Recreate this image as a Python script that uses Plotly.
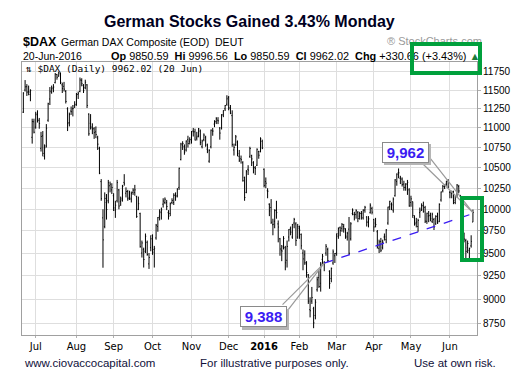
import math
import pandas as pd
import plotly.graph_objects as go

# ---------------- data ----------------
holidays = ["2015-12-24", "2015-12-25", "2015-12-31", "2016-01-01", "2016-03-25", "2016-03-28"]
dates = [d for d in pd.bdate_range("2015-06-22", "2016-06-20") if d.strftime("%Y-%m-%d") not in holidays]

open_ = [
    11205, 11500, 11545, 11480, 11440, 10880, 11080,
    11010, 11170, 11100, 10740, 10900, 10640, 10770, 11100, 11380, 11470, 11530, 11600, 11710, 11690, 11720, 11570, 11550, 11480, 11250, 11070, 11220, 11250, 11290,
    11300, 11440, 11480, 11630, 11560, 11530, 11570, 11180, 11060, 11000, 10990, 10950, 10870, 10740, 10330, 9900, 9800, 10080, 10100, 10280, 10230,
    10160, 9990, 10100, 10230, 10090, 10130, 10320, 10190, 10210, 10140, 10120, 10200, 10200, 10150, 10000, 9950, 9500, 9540, 9520, 9620, 9380, 9560,
    9700, 9540, 9670, 9800, 9920, 9960, 10060, 10080, 10080, 9960, 9950, 10080, 10080, 10170, 10160, 10260, 10600, 10780, 10760, 10720, 10850, 10830,
    10850, 10960, 10950, 10870, 10900, 10960, 10760, 10850, 10880, 10730, 10580, 10760, 10960, 11050, 11080, 11100, 11000, 11000, 11170, 11250, 11310,
    11400, 11260, 11160, 10720, 10790, 10820, 10640, 10610, 10560, 10380, 10200, 10480, 10640, 10650, 10560, 10500, 10530, 10700, 10700, 10830,
    10480, 10330, 10220, 10060, 10020, 9820, 9860, 9990, 9830, 9660, 9530, 9570, 9560, 9420, 9680, 9780, 9680, 9840, 9830, 9680,
    9780, 9710, 9500, 9480, 9380, 9260, 8890, 8980, 8900, 8830, 9100, 9230, 9170, 9430, 9390, 9500, 9540, 9300, 9220, 9390, 9470,
    9500, 9690, 9790, 9780, 9800, 9770, 9680, 9770, 9660, 9950, 9940, 9940, 9960, 9920, 9950, 9900, 9990, 9910, 9850, 9960, 10010,
    9880, 9840, 9740, 9550, 9630, 9560, 9680, 9650, 9840, 10030, 10060, 9990, 10160, 10330, 10440, 10370, 10360, 10300, 10260, 10300, 10230,
    10080, 10090, 9900, 9840, 9800, 9960, 10000, 10040, 10020, 9860, 9920, 9930, 9860, 9880, 9830, 9920, 9860, 10110, 10220, 10270, 10300, 10340,
    10200, 10190, 10200, 10080, 10150, 10270, 10150, 9990, 9720, 9640, 9560, 9530, 9580, 9851,
]
high = [
    11470, 11635, 11580, 11560, 11510, 11120, 11120,
    11210, 11230, 11130, 10950, 10960, 10790, 11050, 11330, 11540, 11560, 11580, 11730, 11720, 11750, 11740, 11600, 11610, 11500, 11270, 11200, 11280, 11300, 11350,
    11460, 11480, 11670, 11660, 11580, 11640, 11580, 11190, 11180, 11060, 11010, 11020, 10900, 10760, 10360, 10000, 10200, 10180, 10350, 10330, 10310,
    10190, 10100, 10350, 10240, 10150, 10290, 10420, 10260, 10230, 10220, 10210, 10250, 10290, 10160, 10150, 9960, 9640, 9560, 9720, 9640, 9500, 9700,
    9710, 9580, 9830, 9910, 10000, 10020, 10130, 10140, 10110, 9990, 10080, 10130, 10190, 10200, 10250, 10500, 10810, 10830, 10790, 10840, 10900, 10880,
    10960, 11000, 10990, 10950, 11000, 10980, 10850, 10930, 10900, 10800, 10730, 10980, 11000, 11100, 11140, 11140, 11010, 11180, 11230, 11300, 11430,
    11420, 11300, 11230, 10800, 10910, 10840, 10720, 10650, 10580, 10390, 10470, 10530, 10760, 10660, 10580, 10520, 10740, 10710, 10880, 10850,
    10490, 10380, 10250, 10070, 10120, 9890, 10000, 10100, 9870, 9670, 9590, 9690, 9580, 9640, 9770, 9800, 9830, 9900, 9850, 9830,
    9810, 9720, 9540, 9530, 9410, 9270, 9020, 9130, 8920, 9000, 9240, 9310, 9400, 9490, 9410, 9600, 9560, 9310, 9340, 9540, 9500,
    9720, 9790, 9800, 9840, 9830, 9780, 9740, 9910, 9850, 10010, 9970, 10000, 9980, 9970, 9980, 10000, 10040, 9920, 9920, 10070, 10030,
    9890, 9900, 9760, 9650, 9670, 9650, 9720, 9770, 10030, 10100, 10080, 10140, 10360, 10430, 10490, 10400, 10380, 10340, 10310, 10350, 10250,
    10160, 10090, 9930, 9900, 9890, 10020, 10070, 10090, 10040, 9960, 9980, 9960, 9960, 9900, 9930, 9960, 10070, 10210, 10290, 10300, 10340, 10360,
    10220, 10220, 10220, 10160, 10300, 10290, 10170, 10000, 9730, 9660, 9640, 9560, 9700, 9997,
]
low = [
    11195, 11480, 11420, 11430, 11350, 10800, 10930,
    10990, 11070, 10990, 10700, 10640, 10600, 10750, 11080, 11300, 11450, 11470, 11590, 11640, 11680, 11580, 11460, 11480, 11320, 10960, 11020, 11170, 11150, 11260,
    11290, 11380, 11470, 11550, 11460, 11510, 11260, 10900, 10980, 10920, 10860, 10870, 10720, 10420, 10100, 9338, 9780, 9880, 10070, 10200, 10180,
    9980, 9900, 10080, 10000, 10040, 10090, 10280, 10140, 10100, 10110, 10080, 10170, 10160, 9900, 9990, 9560, 9450, 9340, 9500, 9470, 9325, 9520,
    9480, 9340, 9650, 9740, 9870, 9880, 10020, 10060, 9990, 9880, 9920, 10060, 10050, 10100, 10140, 10230, 10590, 10720, 10660, 10700, 10750, 10790,
    10800, 10890, 10840, 10840, 10880, 10780, 10740, 10830, 10760, 10680, 10560, 10740, 10900, 11010, 11050, 11050, 10850, 10980, 11140, 11220, 11290,
    11230, 11180, 10760, 10650, 10770, 10640, 10570, 10550, 10330, 10100, 10190, 10410, 10620, 10520, 10430, 10410, 10520, 10610, 10690, 10730,
    10260, 10250, 10130, 9920, 9830, 9700, 9780, 9890, 9620, 9470, 9410, 9540, 9310, 9340, 9630, 9700, 9660, 9780, 9580, 9660,
    9660, 9540, 9310, 9370, 9230, 8950, 8810, 8950, 8699, 8790, 9080, 9120, 9080, 9380, 9300, 9470, 9400, 9110, 9180, 9370, 9390,
    9470, 9660, 9690, 9740, 9730, 9660, 9640, 9480, 9640, 9930, 9870, 9890, 9850, 9880, 9880, 9880, 9960, 9800, 9790, 9950, 9940,
    9740, 9790, 9550, 9500, 9510, 9540, 9640, 9610, 9820, 9990, 9990, 9960, 10150, 10280, 10370, 10300, 10270, 10220, 10220, 10170, 10030,
    10030, 9900, 9810, 9790, 9740, 9900, 9980, 9960, 9840, 9830, 9850, 9860, 9840, 9760, 9820, 9830, 9850, 10090, 10200, 10240, 10280, 10250,
    10130, 10130, 10060, 10060, 10140, 10190, 10060, 9820, 9620, 9440, 9500, 9420, 9560, 9851,
]
close = [
    11460, 11543, 11471, 11473, 11492, 11083, 10945,
    11180, 11099, 11058, 10891, 10677, 10747, 10996, 11316, 11484, 11517, 11540, 11717, 11673, 11735, 11605, 11521, 11512, 11347, 11056, 11174, 11212, 11257, 11309,
    11444, 11456, 11636, 11585, 11491, 11605, 11294, 10925, 11015, 10985, 10940, 10916, 10793, 10432, 10125, 9648, 10128, 9997, 10316, 10299, 10259,
    10016, 10048, 10318, 10038, 10109, 10271, 10303, 10210, 10124, 10132, 10188, 10227, 10230, 9916, 10066, 9571, 9613, 9428, 9689, 9484, 9450, 9660,
    9509, 9553, 9815, 9903, 9970, 9993, 10097, 10118, 10033, 9916, 10065, 10104, 10164, 10148, 10238, 10492, 10795, 10801, 10692, 10832, 10801, 10850,
    10951, 10951, 10845, 10887, 10988, 10815, 10833, 10908, 10783, 10708, 10713, 10971, 10960, 11085, 11120, 11092, 10934, 11170, 11226, 11294, 11382,
    11261, 11190, 10789, 10752, 10886, 10674, 10592, 10599, 10340, 10139, 10450, 10469, 10738, 10608, 10498, 10489, 10728, 10654, 10860, 10743,
    10283, 10310, 10214, 9980, 9849, 9825, 9985, 9961, 9794, 9545, 9522, 9664, 9392, 9574, 9765, 9736, 9823, 9881, 9640, 9798,
    9758, 9581, 9435, 9393, 9286, 8979, 8879, 9017, 8753, 8968, 9207, 9135, 9377, 9464, 9388, 9574, 9417, 9168, 9331, 9513, 9495,
    9717, 9777, 9752, 9824, 9779, 9693, 9723, 9498, 9831, 9990, 9934, 9983, 9892, 9951, 9949, 9990, 10023, 9851, 9888, 10047, 9966,
    9795, 9822, 9563, 9625, 9531, 9622, 9683, 9761, 10026, 10094, 10052, 10120, 10350, 10421, 10436, 10373, 10294, 10260, 10300, 10321, 10039,
    10123, 9927, 9828, 9852, 9870, 9980, 10045, 9975, 9862, 9953, 9925, 9890, 9943, 9796, 9916, 9842, 10057, 10205, 10273, 10286, 10333, 10263,
    10204, 10208, 10103, 10121, 10288, 10217, 10089, 9835, 9657, 9519, 9607, 9550, 9631, 9962,
]

y_ticks = [8750, 9000, 9250, 9500, 9750, 10000, 10250, 10500, 10750, 11000, 11250, 11500, 11750]
y_bounds = [8630, 11884]

trend_dates = ["2016-02-19", "2016-06-20"]
trend_values = [9388, 9950]

callouts = [("2016-06-20", 9962, "9,962"), ("2016-02-19", 9388, "9,388")]

assert len(dates) == len(open_) == len(high) == len(low) == len(close), (len(dates), len(open_), len(high), len(low), len(close))
bad = [i for i in range(len(close)) if high[i] < max(open_[i], close[i]) or low[i] > min(open_[i], close[i])]
assert not bad, bad

# ---------------- layout helpers ----------------
W, H = 530, 380
ML, MR, MT, MB = 22, 53, 62, 45
PW, PH = W - ML - MR, H - MT - MB

def px_x(p):
    return (p - ML) / PW

def px_y(p):
    return (H - MB - p) / PH

date_str = [d.strftime("%Y-%m-%d") for d in dates]
xi = list(range(len(dates)))

tick_idx, tick_txt = [], []
for i in range(1, len(dates)):
    if dates[i].month != dates[i - 1].month:
        tick_idx.append(i)
        tick_txt.append("<b>%d</b>" % dates[i].year if dates[i].month == 1 else dates[i].strftime("%b"))

BLUE = "#3a1cf2"
GREEN = "#00a03c"
SANS = "Liberation Sans, Arial, sans-serif"

fig = go.Figure()
fig.add_trace(go.Ohlc(
    x=xi, open=open_, high=high, low=low, close=close,
    increasing=dict(line=dict(color="black", width=1)),
    decreasing=dict(line=dict(color="black", width=1)),
    tickwidth=0.45, hoverinfo="skip",
))
fig.add_trace(go.Scatter(
    x=[date_str.index(d) for d in trend_dates], y=trend_values, mode="lines",
    line=dict(color=BLUE, width=1.3, dash="dash"), hoverinfo="skip",
))

ann = []
def text(px, py, s, size, color="#000000", family=SANS, anchor="left"):
    ann.append(dict(xref="paper", yref="paper", x=px_x(px), y=px_y(py), text=s, showarrow=False,
                    xanchor=anchor, yanchor="middle", font=dict(size=size, color=color, family=family)))

text(249.5, 21, "<b>German Stocks Gained 3.43% Monday</b>", 16, "#00001e", anchor="center")
text(385, 41, "\u00ae StockCharts.com", 11, "#9a9a9a")
text(21, 42, "<b>$DAX</b>", 12.5)
text(59, 42, "German DAX Composite (EOD)  DEUT", 10.5)
text(21, 56, "20-Jun-2016", 10.5)
text(109, 56, "<b>Op</b> 9850.59  <b>Hi</b> 9996.56  <b>Lo</b> 9850.59  <b>Cl</b> 9962.02  <b>Chg</b> +330.66 (+3.43%) "
     "<span style='color:#1e7a3a'>\u25b2</span>", 10.9)
text(24, 68.5, "\u21c5 $DAX (Daily) 9962.02 (20 Jun)", 9.5, family="DejaVu Sans Mono, monospace")
text(22, 363, "www.ciovaccocapital.com", 11.5, "#10103a")
text(198, 363, "For illustrative purposes only.", 11.5, "#10103a")
text(412, 363, "Use at own risk.", 11.5, "#10103a")

# callouts anchored on data points
callout_geom = {
    "9,962": dict(xs=-67.5, ys=60.4, tails=[(-52, -50.5), (-44.4, -56.5)]),
    "9,388": dict(xs=-61.2, ys=-53.4, tails=[(-43.2, 43), (-37.7, 48.8)]),
}
for d, v, lab in callouts:
    g = callout_geom[lab]
    xv, yv = date_str.index(d), math.log10(v)
    for tx, ty in g["tails"]:
        ann.append(dict(xref="x", yref="y", x=xv, y=yv, text="", showarrow=True, ax=tx, ay=ty,
                        arrowhead=0, arrowwidth=1.2, arrowcolor="#9a9a9a"))
    # drop shadow (box only)
    ann.append(dict(xref="x", yref="y", x=xv, y=yv, text="", showarrow=False,
                    xshift=g["xs"] + 2.5, yshift=g["ys"] - 2.5, width=45, height=19, borderpad=0,
                    bgcolor="#b5b5b5", bordercolor="#b5b5b5", borderwidth=1))
    ann.append(dict(xref="x", yref="y", x=xv, y=yv, text="<b>%s</b>" % lab, showarrow=False,
                    xshift=g["xs"], yshift=g["ys"], width=45, height=19, borderpad=0,
                    bgcolor="white", bordercolor="#8a8a8a", borderwidth=1,
                    font=dict(size=15, color=BLUE, family=SANS)))

# green highlight boxes
for cx, cy, w, h in [(445.85, 58.35, 63.7, 25.3), (472, 229, 16, 58)]:
    ann.append(dict(xref="paper", yref="paper", x=px_x(cx), y=px_y(cy), text="", showarrow=False,
                    xanchor="center", yanchor="middle", width=w, height=h, borderpad=0,
                    bordercolor=GREEN, borderwidth=4, bgcolor="rgba(0,0,0,0)"))

fig.update_layout(
    width=W, height=H, margin=dict(l=ML, r=MR, t=MT, b=MB, pad=0),
    paper_bgcolor="white", plot_bgcolor="white", showlegend=False,
    annotations=ann,
    xaxis=dict(range=[-0.75, 256.3], tickmode="array", tickvals=tick_idx, ticktext=tick_txt,
               showgrid=True, gridcolor="#dedede", gridwidth=1, zeroline=False,
               showline=True, linecolor="#a0a0a0", linewidth=1, mirror=True,
               ticks="outside", ticklen=2, tickcolor="#b0b0b0",
               tickfont=dict(size=10, color="black", family="DejaVu Sans, sans-serif"),
               rangeslider=dict(visible=False), fixedrange=True),
    yaxis=dict(type="log", range=[math.log10(y_bounds[0]), math.log10(y_bounds[1])], side="right",
               tickmode="array", tickvals=y_ticks, ticktext=[str(t) for t in y_ticks],
               showgrid=True, gridcolor="#dedede", gridwidth=1, zeroline=False,
               showline=True, linecolor="#a0a0a0", linewidth=1, mirror=True,
               ticks="outside", ticklen=3, tickcolor="#b0b0b0",
               tickfont=dict(size=10, color="black", family=SANS), fixedrange=True),
)

fig.write_html("out.html", config={"displayModeBar": False, "staticPlot": True},
               post_script="document.body.style.margin='0px';document.body.style.padding='0px';")
